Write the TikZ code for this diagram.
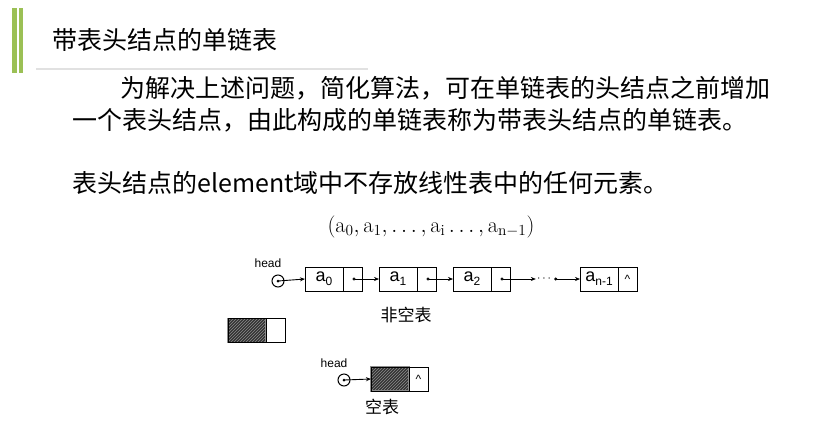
\documentclass[tikz,border=0pt]{standalone}
\usepackage{fontspec}
\usepackage{amsmath}
\usepackage{graphicx}
\usepackage{tikz}
\usetikzlibrary{positioning, arrows.meta, patterns, calc}

\newfontfamily\cjk{Noto Sans CJK SC}
\newfontfamily\arial{Liberation Sans}
\definecolor{barGreen}{RGB}{155,192,85}
\definecolor{ruleGray}{RGB}{225,225,225}
\newcommand{\lsub}[1]{\raisebox{-0.45ex}{\fontsize{12}{12}\selectfont #1}}

\begin{document}
\begin{tikzpicture}[x=1pt, y=-1pt, >=stealth,
	cell/.style = {draw, line width=0.8pt, minimum height=24pt, inner sep=0pt, outer sep=0pt},
	datacell/.style = {cell, minimum width=38pt, font=\arial\fontsize{18}{18}\selectfont},
	ptrcell/.style = {cell, minimum width=19pt, font=\arial\fontsize{12}{12}\selectfont},
	shaded/.style = {draw=black!45, line width=1.2pt, preaction={fill=black!80},
		pattern=north east lines, pattern color=black!45},
	link/.style = {line width=0.6pt, {Circle[length=3pt]}-{Stealth[length=5pt, width=4pt]}},
	headlink/.style = {line width=0.9pt, -{Stealth[length=5pt, width=4pt]}},
	bodytext/.style = {anchor=west, inner sep=0pt, font=\cjk\fontsize{25}{30}\selectfont},
	caption/.style = {inner sep=0pt, font=\cjk\fontsize{17}{20}\selectfont},
	headlabel/.style = {inner sep=0pt, font=\arial\fontsize{12}{12}\selectfont},
	headcirc/.style = {circle, draw, line width=1pt, minimum size=12pt, inner sep=0pt}]
	\useasboundingbox (0, 0) rectangle (825, 432);

	% title bar
	\fill[barGreen] (12, 8) rectangle (16.5, 73);
	\fill[barGreen] (18.5, 8) rectangle (23, 73);
	\draw[ruleGray, line width=1.5pt] (36, 69) -- (368, 69);
	\node[bodytext] (title) at (52, 40) {带表头结点的单链表};

	% text
	\node[bodytext] (line1) at (120, 88) {为解决上述问题，简化算法，可在单链表的头结点之前增加};
	\node[bodytext] (line2) at (72, 120) {一个表头结点，由此构成的单链表称为带表头结点的单链表。};
	\node[bodytext] (line3) at (72, 183) {表头结点的element域中不存放线性表中的任何元素。};

	\node[inner sep=0pt, font=\fontsize{20.74}{25}\selectfont] (seq) at (431, 227)
		{\scalebox{1.07}{$(\mathrm{a}_0, \mathrm{a}_1, \ldots, \mathrm{a}_{\mathrm{i}} \ldots, \mathrm{a}_{\mathrm{n-1}})$}};

	% non-empty list
	\node[headlabel] (head1) at (268, 263) {head};
	\node[headcirc] (hc1) at (278, 281) {};
	\fill (hc1.center) circle [radius = 1.5];
	\node[datacell, anchor=west] (d0) at (305, 279) {\raisebox{2pt}{a\lsub{0}}};
	\node[ptrcell, right=0pt of d0] (p0) {};
	\node[datacell, right=17pt of p0] (d1) {\raisebox{2pt}{a\lsub{1}}};
	\node[ptrcell, right=0pt of d1] (p1) {};
	\node[datacell, right=17pt of p1] (d2) {\raisebox{2pt}{a\lsub{2}}};
	\node[ptrcell, right=0pt of d2] (p2) {};
	\node[datacell, right=70pt of p2] (dn) {\raisebox{2pt}{a\lsub{n-1}}};
	\node[ptrcell, right=0pt of dn] (pn) {\textasciicircum};
	\node[inner sep=1pt, font=\fontsize{13}{13}\selectfont] (dots) at ($(p2.east)!0.5!(dn.west)$) {$\cdots$};
	\draw[headlink] (hc1.center) -- (d0.west);
	\draw[link] (p0.center) -- (d1.west);
	\draw[link] (p1.center) -- (d2.west);
	\draw[link] (p2.center) -- (dots.west);
	\draw[link] (dots.east) -- (dn.west);
	\node[caption] (cap1) at (406, 315) {非空表};

	% head node alone
	\node[datacell, shaded, anchor=west] (hd) at (228, 330.5) {};
	\node[ptrcell, right=0pt of hd] (hp) {};
	\draw[line width=0.8pt] (hd.north west) rectangle (hp.south east);

	% empty list
	\node[headlabel] (head2) at (334, 363) {head};
	\node[headcirc] (hc2) at (344, 380) {};
	\fill (hc2.center) circle [radius = 1.5];
	\node[datacell, shaded, anchor=west] (ed) at (371, 379) {};
	\node[ptrcell, right=0pt of ed] (ep) {\textasciicircum};
	\draw[line width=0.8pt] (ed.north west) rectangle (ep.south east);
	\draw[headlink] (hc2.center) -- (ed.west);
	\node[caption] (cap2) at (382, 407) {空表};
\end{tikzpicture}
\end{document}
